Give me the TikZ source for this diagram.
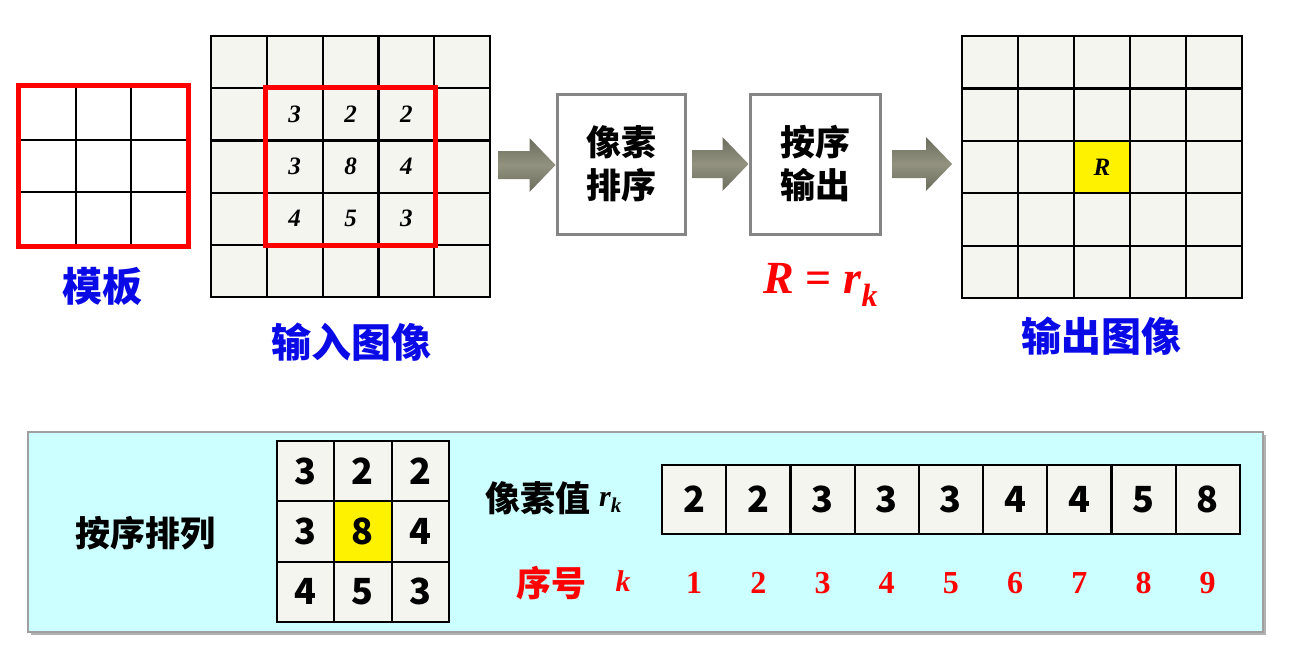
\documentclass[tikz,border=0pt]{standalone}
\usepackage{fontspec}
\setmainfont{Liberation Serif}
\newfontfamily\cjk{Noto Sans CJK SC}
\usetikzlibrary{calc,shadows}
\definecolor{cellbg}{HTML}{F5F5F0}
\definecolor{tblue}{RGB}{10,10,230}
\definecolor{panelbg}{HTML}{CCFFFF}
\definecolor{boxgray}{HTML}{858585}
\definecolor{arrdark}{HTML}{6C6C5E}
\definecolor{arrlight}{HTML}{92927F}
\newcommand\blockarr[2]{%
  \path[blockarrow] let \p1=(#1),\p2=(#2) in
    (\x1,\y1+14pt) -- (\x2-26pt,\y1+14pt) -- (\x2-26pt,\y1+27pt) -- (\x2,\y1)
    -- (\x2-26pt,\y1-27pt) -- (\x2-26pt,\y1-14pt) -- (\x1,\y1-14pt) -- cycle;}
\begin{document}
\begin{tikzpicture}[x=1pt,y=-1pt,
  cell/.style n args={2}{draw=black,line width=2.2pt,fill=cellbg,inner sep=0pt,
    minimum width=#1,minimum height=#2},
  numit/.style={font=\bfseries\itshape\fontsize{25}{25}\selectfont},
  numsans/.style={font=\cjk\bfseries\fontsize{36}{36}\selectfont},
  bluelabel/.style={text=tblue,font=\cjk\bfseries\fontsize{40}{40}\selectfont},
  cjklabel/.style={font=\cjk\bfseries\fontsize{35}{35}\selectfont},
  redframe/.style={draw=red,line width=5pt},
  procbox/.style={draw=boxgray,line width=3pt,fill=white,minimum height=140pt,
    align=center,font=\cjk\bfseries\fontsize{35}{43}\selectfont},
  blockarrow/.style={top color=arrdark,bottom color=arrdark,middle color=arrlight},
  idx/.style={text=red,font=\bfseries\fontsize{32}{32}\selectfont},
]
\useasboundingbox (0,0) rectangle (1301,651);

% template
\foreach \i in {0,1,2}{\foreach \j in {0,1,2}{
  \node[cell={55.67pt}{52.67pt},fill=white] (t-\i-\j) at ({20+55.67*(\i+0.5)},{87+52.67*(\j+0.5)}) {};}}
\draw[redframe] (t-0-0.north west) rectangle (t-2-2.south east);
\node[bluelabel] (lblt) at (102,286) {模板};

% input image
\foreach \i in {0,...,4}{\foreach \j in {0,...,4}{
  \node[cell={55.8pt}{52.2pt}] (in-\i-\j) at ({211+55.8*(\i+0.5)},{36+52.2*(\j+0.5)}) {};}}
\foreach \i/\j/\v in {1/1/3,2/1/2,3/1/2,1/2/3,2/2/8,3/2/4,1/3/4,2/3/5,3/3/3}
  \node[numit] (inv-\i-\j) at (in-\i-\j) {\v};
\draw[redframe] (in-1-1.north west) rectangle (in-3-3.south east);
\node[bluelabel] (lblin) at (351,342) {输入图像};

% process boxes
\node[procbox,minimum width=128pt] (sort) at (621,164) {像素\\排序};
\node[procbox,minimum width=130pt] (outp) at (815,164) {按序\\输出};
\node[text=red,font=\bfseries\itshape\fontsize{46}{46}\selectfont,anchor=base] (rk) at (821,293) {R {\upshape=} r\textsubscript{k}};

% arrows
\coordinate (a1s) at (498,165);
\coordinate (a2s) at ($(sort.east)+(6,0)$);
\coordinate (a3s) at ($(outp.east)+(11,0)$);
\coordinate (a3e) at (952,165);
\blockarr{a1s}{sort.west}
\blockarr{a2s}{outp.west}
\blockarr{a3s}{a3e}

% output image
\foreach \i in {0,...,4}{\foreach \j in {0,...,4}{
  \node[cell={56pt}{52.4pt}] (out-\i-\j) at ({962+56*(\i+0.5)},{36+52.4*(\j+0.5)}) {};}}
\node[cell={56pt}{52.4pt},fill=yellow,numit] (outc) at (out-2-2) {R};
\node[bluelabel] (lblout) at (1101,336) {输出图像};

% bottom panel
\node[draw=gray!75,line width=2pt,fill=panelbg,minimum width=1235pt,minimum height=200pt,
  drop shadow={shadow xshift=3pt,shadow yshift=-3pt,fill=gray!60,opacity=1}] (panel) at (645.5,532) {};
\node[cjklabel] (sortlbl) at (145,533) {按序排列};
\foreach \v/\f [count=\n from 0] in {3/cellbg,2/cellbg,2/cellbg,3/cellbg,8/yellow,4/cellbg,4/cellbg,5/cellbg,3/cellbg}{
  \pgfmathtruncatemacro\i{mod(\n,3)}
  \pgfmathtruncatemacro\j{div(\n,3)}
  \node[cell={57.3pt}{60.3pt},fill=\f,numsans] (b-\i-\j) at ({277+57.3*(\i+0.5)},{441+60.3*(\j+0.5)}) {\v};}
\node[cjklabel,anchor=east] (pv) at (594,498) {像素值};
\node[font=\bfseries\itshape\fontsize{30}{30}\selectfont,anchor=base west,inner sep=0pt] (rsym) at (599,506) {r\textsubscript{k}};
\foreach \v [count=\n from 0] in {2,2,3,3,3,4,4,5,8}
  \node[cell={64.2pt}{69pt},numsans] (s-\n) at ({662+64.2*(\n+0.5)},499.5) {\v};
\foreach \n [count=\m from 1] in {0,...,8}
  \node[idx] (k-\n) at ($(s-\n)+(0,83.5)$) {\m};
\node[cjklabel,text=red,anchor=east] (xh) at (590,583) {序号};
\node[text=red,font=\bfseries\itshape\fontsize{30}{30}\selectfont] (ksym) at (623,581) {k};
\end{tikzpicture}
\end{document}
